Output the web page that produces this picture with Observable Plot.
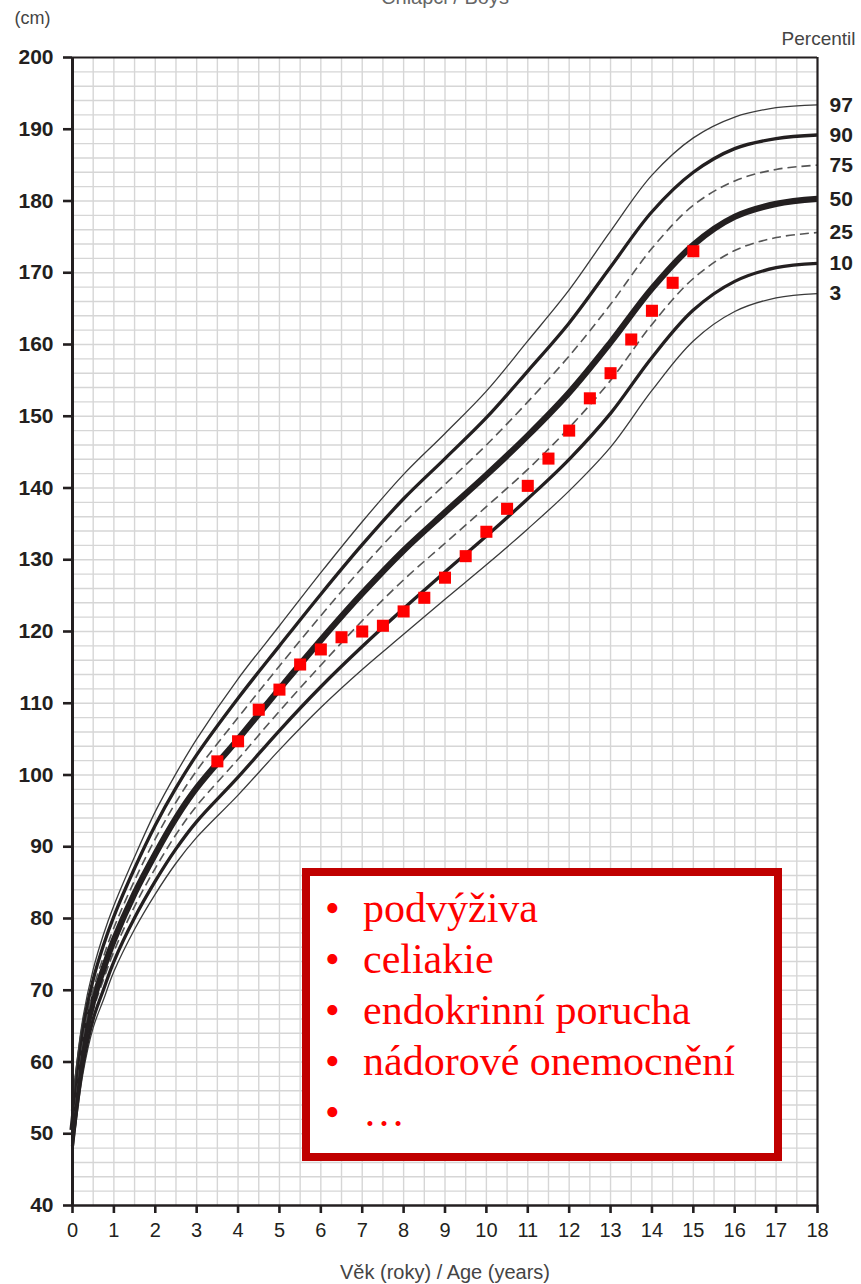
<!DOCTYPE html>
<html>
<head>
<meta charset="utf-8">
<script src="https://cdn.jsdelivr.net/npm/d3@7"></script>
<script src="https://cdn.jsdelivr.net/npm/@observablehq/plot@0.6"></script>
<style>
  html, body { margin: 0; padding: 0; background: #fff; }
  #wrap { position: relative; width: 861px; height: 1284px; overflow: hidden; }
  #wrap svg { display: block; }
  #box {
    position: absolute; left: 302px; top: 868px; width: 480px; height: 293px;
    box-sizing: border-box; border: 8px solid #c00000; background: #fff;
    font-family: "Liberation Serif", "Times New Roman", serif; font-size: 42px; color: #ff0000;
  }
  #box .li { position: absolute; left: 0; height: 51px; line-height: 51px; white-space: nowrap; }
  #box .b { position: absolute; left: 15px; }
  #box .t { position: absolute; left: 53px; }
</style>
</head>
<body>
<div id="wrap"></div>
<script>
// ---- data ----
const ages = [0, 0.25, 0.5, 0.75, 1, 1.5, 2, 2.5, 3, 4, 5, 6, 7, 8, 9, 10, 11, 12, 13, 14, 15, 16, 17, 18];
const p3  = [47.3, 58.3, 64.8, 68.7, 72.6, 78.5, 83.4, 87.7, 91.3, 97.2, 103.5, 109.4, 114.7, 119.6, 124.5, 129.3, 134.3, 139.6, 145.7, 153.6, 160.5, 164.6, 166.5, 167.1];
const p10 = [48.3, 59.5, 66.0, 70.1, 74.0, 80.1, 85.2, 89.7, 93.5, 99.7, 106.2, 112.3, 117.9, 123.2, 128.3, 133.3, 138.5, 144.0, 150.4, 158.2, 164.8, 168.8, 170.7, 171.3];
const p25 = [49.3, 60.7, 67.2, 71.5, 75.4, 81.7, 87.0, 91.7, 95.7, 102.2, 108.9, 115.3, 121.5, 127.2, 132.3, 137.4, 142.6, 148.4, 155.0, 162.8, 169.2, 173.1, 174.9, 175.6];
const p50 = [50.5, 62.0, 68.5, 73.0, 77.0, 83.5, 89.0, 94.0, 98.2, 105.0, 112.0, 118.8, 125.3, 131.3, 136.6, 141.8, 147.3, 153.3, 160.3, 167.8, 173.9, 177.8, 179.6, 180.3];
const p75 = [51.9, 63.5, 70.1, 74.7, 78.7, 85.3, 91.1, 96.2, 100.6, 108.0, 115.2, 122.2, 128.9, 135.1, 140.5, 146.0, 152.0, 158.4, 165.6, 173.4, 179.4, 182.8, 184.4, 185.0];
const p90 = [53.2, 64.8, 71.5, 76.3, 80.3, 87.0, 93.0, 98.2, 102.8, 110.7, 118.0, 125.2, 132.1, 138.5, 144.1, 149.8, 156.3, 163.0, 170.8, 178.5, 184.0, 187.3, 188.7, 189.2];
const p97 = [54.5, 66.1, 72.9, 77.8, 81.8, 88.6, 94.9, 100.2, 105.0, 113.4, 120.8, 128.2, 135.3, 141.9, 147.6, 153.5, 160.5, 167.6, 175.8, 183.6, 188.8, 191.7, 193.0, 193.4];
const percentiles = ["3", "10", "25", "50", "75", "90", "97"];
const pointAges = [3.5, 4, 4.5, 5, 5.5, 6, 6.5, 7, 7.5, 8, 8.5, 9, 9.5, 10, 10.5, 11, 11.5, 12, 12.5, 13, 13.5, 14, 14.5, 15];
const pointHeights = [101.9, 104.7, 109.1, 111.9, 115.4, 117.5, 119.2, 120.0, 120.8, 122.8, 124.7, 127.5, 130.5, 133.9, 137.1, 140.3, 144.1, 148.0, 152.5, 156.0, 160.7, 164.7, 168.6, 173.0];
const xTicks = [0, 1, 2, 3, 4, 5, 6, 7, 8, 9, 10, 11, 12, 13, 14, 15, 16, 17, 18];
const yTicks = [40, 50, 60, 70, 80, 90, 100, 110, 120, 130, 140, 150, 160, 170, 180, 190, 200];
const boxItems = ["podvýživa", "celiakie", "endokrinní porucha", "nádorové onemocnění", "…"];
const titleText = "Chlapci / Boys";
const unitText = "(cm)";
const percentileTitle = "Percentil";
const xLabel = "Věk (roky) / Age (years)";

// ---- styles ----
const ink = "#231f20";
const lineStyle = {
  "3":  {w: 1.3, dash: null, c: "#3a3a3a"},
  "10": {w: 3.3, dash: null, c: ink},
  "25": {w: 1.6, dash: "9,5", c: "#555"},
  "50": {w: 6.2, dash: null, c: ink},
  "75": {w: 1.6, dash: "9,5", c: "#555"},
  "90": {w: 3.3, dash: null, c: ink},
  "97": {w: 1.3, dash: null, c: "#3a3a3a"}
};

const series = [p3, p10, p25, p50, p75, p90, p97];
const rows = percentiles.flatMap((p, i) => ages.map((a, j) => ({pct: p, age: a, h: series[i][j]})));
const endRows = percentiles.map((p, i) => ({pct: p, age: ages[ages.length - 1], h: series[i][series[i].length - 1]}));
const points = pointAges.map((a, i) => ({age: a, h: pointHeights[i]}));
const xGrid = d3.range(0.5, 18, 0.5);
const yGrid = d3.range(42, 200, 2);

const chart = Plot.plot({
  width: 861,
  height: 1284,
  marginTop: 57,
  marginLeft: 72,
  marginRight: 44,
  marginBottom: 79,
  x: {domain: [0, 18]},
  y: {domain: [40, 200]},
  style: {fontFamily: "'Liberation Sans', Arial, Helvetica, sans-serif", background: "#fff", color: ink},
  marks: [
    Plot.ruleX(xGrid, {stroke: "#d6d6d6", strokeWidth: 1.4}),
    Plot.ruleY(yGrid, {stroke: "#d6d6d6", strokeWidth: 1.4}),
    ...percentiles.map(p => Plot.line(rows.filter(d => d.pct === p), {
      x: "age", y: "h", curve: "catmull-rom",
      stroke: lineStyle[p].c, strokeWidth: lineStyle[p].w,
      strokeDasharray: lineStyle[p].dash, strokeLinecap: "butt"
    })),
    Plot.ruleY([200], {stroke: ink, strokeWidth: 2.2}),
    Plot.ruleX([18], {stroke: ink, strokeWidth: 2.2}),
    Plot.ruleY([40], {stroke: ink, strokeWidth: 2.6}),
    Plot.ruleX([0], {stroke: ink, strokeWidth: 3}),
    Plot.axisY(yTicks, {anchor: "left", tickSize: 9, tickPadding: 10, fontSize: 21, fontWeight: "bold", strokeWidth: 2.6, label: null, color: ink}),
    Plot.axisX(xTicks, {anchor: "bottom", tickSize: 8, tickPadding: 9, fontSize: 20, strokeWidth: 2.6, label: null, color: ink}),
    Plot.dot(points, {x: "age", y: "h", symbol: "square", r: 6.8, fill: "#ff0000", stroke: null}),
    Plot.text(endRows, {x: "age", y: "h", text: "pct", dx: 12, textAnchor: "start", fontSize: 21, fontWeight: "bold", fill: ink}),
    Plot.text([percentileTitle], {text: d => d, frameAnchor: "top-right", textAnchor: "end", lineAnchor: "bottom", dx: 38, dy: -13, fontSize: 19, fill: "#444"}),
    Plot.text([unitText], {text: d => d, frameAnchor: "top-left", textAnchor: "start", lineAnchor: "bottom", dx: -58, dy: -34, fontSize: 18, fill: "#444"}),
    Plot.text([titleText], {text: d => d, frameAnchor: "top", lineAnchor: "bottom", dy: -54, fontSize: 20, fill: "#666"}),
    Plot.text([xLabel], {text: d => d, frameAnchor: "bottom", lineAnchor: "bottom", dy: 73, fontSize: 20, fill: "#444"})
  ]
});
const wrap = document.getElementById("wrap");
wrap.appendChild(chart);

// annotation box
const box = document.createElement("div");
box.id = "box";
boxItems.forEach((item, i) => {
  const li = document.createElement("div");
  li.className = "li";
  li.style.top = (7 + i * 51) + "px";
  const b = document.createElement("span"); b.className = "b"; b.textContent = "•";
  const t = document.createElement("span"); t.className = "t"; t.textContent = item;
  li.appendChild(b); li.appendChild(t);
  box.appendChild(li);
});
wrap.appendChild(box);
</script>
</body>
</html>
